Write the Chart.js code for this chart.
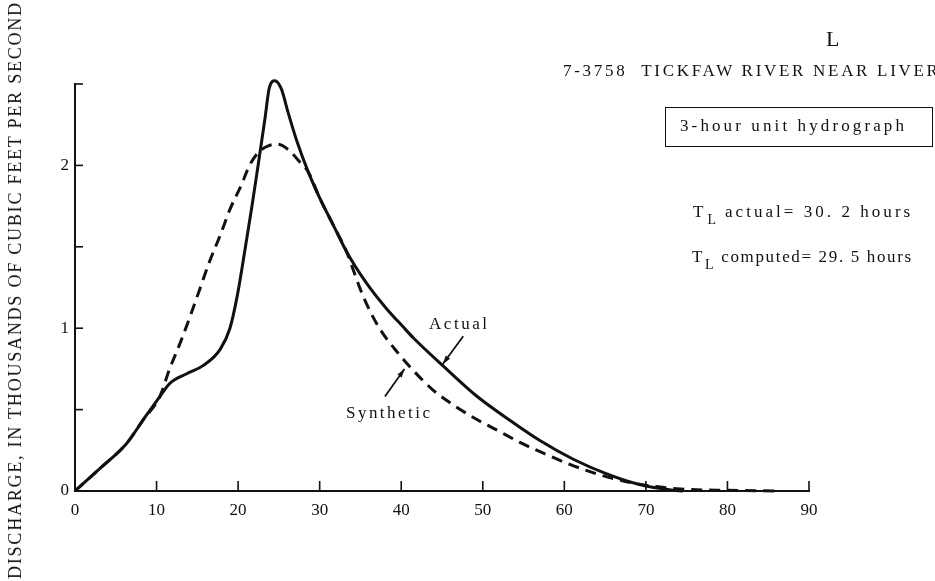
<!DOCTYPE html>
<html>
<head>
<meta charset="utf-8">
<title>Tickfaw River unit hydrograph</title>
<script src="https://cdn.jsdelivr.net/npm/chart.js@4.4.1/dist/chart.umd.min.js"></script>
<style>
  body { margin: 0; background: #fff; }
  #wrap { position: relative; width: 935px; height: 581px; overflow: hidden;
          font-family: "Liberation Serif", "Times New Roman", serif; color: #111; }
  #plot { position: absolute; left: 0; top: 0; }
  .txt { position: absolute; white-space: nowrap; line-height: 1; font-size: 17px; }
  .txt sub { font-size: 14px; vertical-align: -7px; line-height: 0; margin: 0 6px 0 1px; }
  #ytitle { left: 15px; top: 290px; font-size: 18px; transform: translate(-50%, -50%) rotate(-90deg); }
  #box { position: absolute; left: 665px; top: 107px; width: 266px; height: 38px; border: 1.5px solid #111; }
</style>
</head>
<body>
<div id="wrap">
  <canvas id="plot" width="935" height="581"></canvas>
  <div class="txt" id="bigL" style="left:826px; top:28px; font-size:22px;">L</div>
  <div class="txt" id="title" style="left:563px; top:62px;" data-fit="7-3758  TICKFAW RIVER NEAR" data-w="300">7-3758&nbsp;&nbsp;TICKFAW RIVER NEAR LIVERPOOL</div>
  <div id="box"></div>
  <div class="txt" id="unit" style="left:680px; top:117px;" data-fit="3-hour unit hydrograph" data-w="224">3-hour unit hydrograph</div>
  <div class="txt" id="tlA" style="left:693px; top:203px;" data-w="212">T<sub>L</sub>actual= 30. 2 hours</div>
  <div class="txt" id="tlC" style="left:692px; top:248px;" data-w="214">T<sub>L</sub>computed= 29. 5 hours</div>
  <div class="txt" id="lblA" style="left:429px; top:315px;" data-w="58">Actual</div>
  <div class="txt" id="lblS" style="left:346px; top:404px;" data-w="84">Synthetic</div>
  <div class="txt" id="ytitle" data-w="576">DISCHARGE, IN THOUSANDS OF CUBIC FEET PER SECOND</div>
</div>
<script>
// hours after start of runoff
const actualHours = [0, 3.1, 6.3, 8.4, 10.4, 11.6, 13.7, 15.7, 17.8, 19.0, 19.9, 20.9, 21.7, 22.3,
  23.3, 23.8, 24.5, 25.3, 26.1, 27.2, 28.6, 30.0, 31.7, 33.3, 35.7, 38.2, 40.2, 41.5, 45.1, 49.2,
  53.3, 57.0, 61.1, 65.2, 69.2, 73.3, 74.5];
// discharge, thousands of cfs
const actualFlow = [0, 0.14, 0.29, 0.44, 0.58, 0.66, 0.72, 0.77, 0.87, 1.0, 1.2, 1.5, 1.75, 1.95,
  2.29, 2.47, 2.52, 2.47, 2.33, 2.15, 1.96, 1.80, 1.63, 1.47, 1.28, 1.12, 1.01, 0.94, 0.77, 0.585,
  0.435, 0.31, 0.195, 0.105, 0.04, 0.005, 0];

const synthHours = [0, 3.1, 6.3, 8.4, 10.4, 11.6, 12.9, 14.1, 15.3, 16.5, 17.8, 19.0, 20.4, 21.4,
  22.5, 23.7, 24.9, 26.3, 27.4, 28.6, 30.0, 31.7, 33.3, 34.1, 35.3, 37.2, 39.4, 41.3, 43.9, 46.8,
  49.6, 51.7, 54.5, 57.3, 60.6, 64.0, 67.0, 70.0, 75.0, 80.0, 86.0];
const synthFlow = [0, 0.14, 0.29, 0.44, 0.58, 0.75, 0.91, 1.07, 1.24, 1.41, 1.57, 1.73, 1.88, 2.0,
  2.08, 2.12, 2.13, 2.09, 2.03, 1.96, 1.80, 1.63, 1.47, 1.36, 1.20, 1.01, 0.86, 0.75, 0.62, 0.515,
  0.43, 0.375, 0.30, 0.235, 0.165, 0.105, 0.065, 0.035, 0.01, 0.004, 0];

const xTicks = [0, 10, 20, 30, 40, 50, 60, 70, 80, 90];
const yLabels = [0, 1, 2];

// leader arrows for the curve labels, [hours, flow] tail -> head
const arrows = [
  { from: [47.6, 0.95], to: [45.1, 0.78] },
  { from: [38.0, 0.58], to: [40.4, 0.75] }
];

const ink = '#111';
const serif = '"Liberation Serif", "Times New Roman", serif';

function pairs(xs, ys) {
  return xs.map((x, i) => ({ x: x, y: ys[i] }));
}

// spread letters so each caption covers its width
function fitText() {
  document.querySelectorAll('[data-w]').forEach(el => {
    const probe = document.createElement('span');
    probe.style.cssText = 'position:absolute;visibility:hidden;white-space:nowrap;';
    probe.style.font = getComputedStyle(el).font;
    const txt = el.dataset.fit || el.textContent;
    probe.textContent = txt;
    document.body.appendChild(probe);
    const w = probe.getBoundingClientRect().width;
    probe.remove();
    const n = txt.length - 1;
    el.style.letterSpacing = ((+el.dataset.w - w) / n).toFixed(2) + 'px';
  });
}

const axisMarks = {
  id: 'axisMarks',
  afterDraw(chart) {
    const { ctx, scales: { x, y } } = chart;
    ctx.save();
    ctx.strokeStyle = ink;
    ctx.fillStyle = ink;
    ctx.lineWidth = 1.6;
    x.ticks.forEach(t => {
      if (t.value === 0) return;
      const px = x.getPixelForValue(t.value);
      ctx.beginPath();
      ctx.moveTo(px, y.bottom);
      ctx.lineTo(px, y.bottom - 10);
      ctx.stroke();
    });
    y.ticks.forEach(t => {
      if (t.value === 0) return;
      const py = y.getPixelForValue(t.value);
      ctx.beginPath();
      ctx.moveTo(x.left, py);
      ctx.lineTo(x.left + 8, py);
      ctx.stroke();
    });
    ctx.lineWidth = 1.8;
    arrows.forEach(a => {
      const x0 = x.getPixelForValue(a.from[0]), y0 = y.getPixelForValue(a.from[1]);
      const x1 = x.getPixelForValue(a.to[0]), y1 = y.getPixelForValue(a.to[1]);
      const ang = Math.atan2(y1 - y0, x1 - x0);
      ctx.beginPath();
      ctx.moveTo(x0, y0);
      ctx.lineTo(x1, y1);
      ctx.stroke();
      ctx.beginPath();
      ctx.moveTo(x1, y1);
      ctx.lineTo(x1 - 9 * Math.cos(ang - 0.3), y1 - 9 * Math.sin(ang - 0.3));
      ctx.lineTo(x1 - 9 * Math.cos(ang + 0.3), y1 - 9 * Math.sin(ang + 0.3));
      ctx.closePath();
      ctx.fill();
    });
    ctx.restore();
  }
};

function draw() {
  fitText();
  new Chart(document.getElementById('plot'), {
    type: 'line',
    data: {
      datasets: [{
        label: 'Actual',
        data: pairs(actualHours, actualFlow),
        borderColor: ink,
        borderWidth: 3,
        pointRadius: 0,
        clip: 8,
        cubicInterpolationMode: 'monotone'
      }, {
        label: 'Synthetic',
        data: pairs(synthHours, synthFlow),
        borderColor: ink,
        borderWidth: 3,
        borderDash: [11, 7],
        pointRadius: 0,
        clip: 8,
        cubicInterpolationMode: 'monotone'
      }]
    },
    options: {
      responsive: false,
      animation: false,
      devicePixelRatio: 1,
      layout: { padding: { left: 0, top: 84, right: 126, bottom: 0 } },
      plugins: { legend: { display: false }, tooltip: { enabled: false } },
      scales: {
        x: {
          type: 'linear',
          min: 0,
          max: 90,
          grid: { display: false, drawTicks: false },
          border: { color: ink, width: 2 },
          afterBuildTicks: s => { s.ticks = xTicks.map(v => ({ value: v })); },
          afterFit: s => { s.height = 90; },
          ticks: { color: ink, padding: 9, maxRotation: 0, font: { family: serif, size: 17 } }
        },
        y: {
          type: 'linear',
          min: 0,
          max: 2.5,
          grid: { display: false, drawTicks: false },
          border: { color: ink, width: 2 },
          afterFit: s => { s.width = 75; },
          ticks: {
            stepSize: 0.5,
            color: ink,
            padding: 6,
            font: { family: serif, size: 17 },
            callback: v => yLabels.includes(v) ? String(v) : ''
          }
        }
      }
    },
    plugins: [axisMarks]
  });
}

document.fonts.load('17px "Liberation Serif"').then(draw, draw);
</script>
</body>
</html>
